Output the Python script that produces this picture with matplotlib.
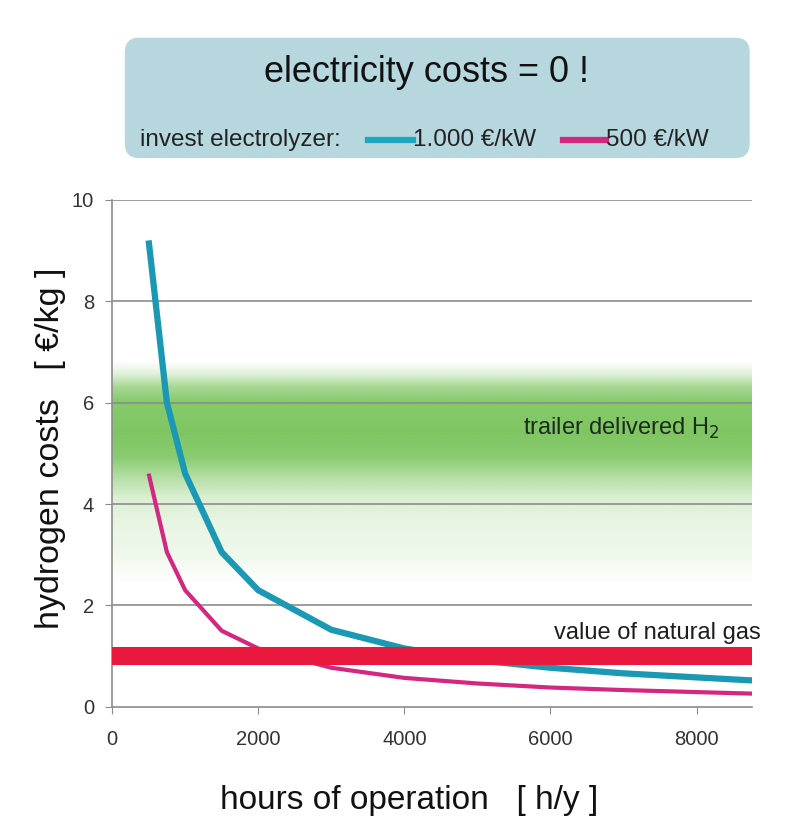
import numpy as np
import matplotlib
matplotlib.use("Agg")
import matplotlib.pyplot as plt
from matplotlib.patches import FancyBboxPatch
from matplotlib.colors import to_rgb

plt.rcParams['font.family'] = ['Liberation Sans', 'DejaVu Sans']

hours = [500, 750, 1000, 1500, 2000, 3000, 4000, 5000, 6000, 7000, 8000, 8760]
cost_1000 = [9.2, 6.0, 4.6, 3.05, 2.3, 1.52, 1.15, 0.92, 0.77, 0.66, 0.58, 0.52]
cost_500 = [4.6, 3.05, 2.3, 1.5, 1.15, 0.77, 0.57, 0.46, 0.38, 0.33, 0.29, 0.26]
natural_gas_value = 1.0
trailer_low, trailer_high = 2.4, 6.8
xticks = [0, 2000, 4000, 6000, 8000]
yticks = [0, 2, 4, 6, 8, 10]

fig = plt.figure(figsize=(7.95, 8.19), dpi=100)
ax = fig.add_axes([0.141, 0.137, 0.805, 0.619])
ax.set_xlim(0, 8760)
ax.set_ylim(0, 10)

# green gradient band (visual style)
yy = np.linspace(trailer_low, trailer_high, 300)
knots_y = [2.4, 3.0, 3.6, 4.1, 4.5, 4.9, 5.4, 6.0, 6.3, 6.55, 6.8]
knots_a = [0.0, 0.10, 0.14, 0.22, 0.45, 0.72, 0.80, 0.75, 0.55, 0.2, 0.0]
alpha = np.interp(yy, knots_y, knots_a)[::-1]
nx = 300
A = np.repeat(alpha[:, None], nx, axis=1)
g = np.array(to_rgb('#5db83a'))
img = np.zeros((len(yy), nx, 4))
img[..., :3] = g
img[..., 3] = A
ax.imshow(img, extent=[0, 8760, trailer_low, trailer_high], aspect='auto', zorder=0, interpolation='bilinear')

for y in yticks[1:]:
    ax.axhline(y, color='#8c8c8c', lw=1.2, zorder=1)

ax.plot(hours, cost_1000, color='#1b98b3', lw=4.5, zorder=3, solid_capstyle='butt')
ax.plot(hours, cost_500, color='#d42780', lw=3.0, zorder=3, solid_capstyle='butt')
ax.plot([0, 8760], [natural_gas_value, natural_gas_value], color='#e8193c', lw=13, zorder=4, solid_capstyle='butt')

ax.text(5620, 5.5, 'trailer delivered H$_2$', fontsize=17, color='#1e2a1e', va='center', ha='left', zorder=5)
ax.text(6050, 1.45, 'value of natural gas', fontsize=17, color='#1e1e1e', va='center', ha='left', zorder=5)

ax.set_xticks(xticks)
ax.set_yticks(yticks)
ax.tick_params(axis='x', length=5, color='#8c8c8c', labelsize=14.5, labelcolor='#333333', pad=12)
ax.tick_params(axis='y', length=5, color='#8c8c8c', labelsize=14.5, labelcolor='#333333', pad=8)
for s in ['top', 'right']:
    ax.spines[s].set_visible(False)
for s in ['left', 'bottom']:
    ax.spines[s].set_color('#8c8c8c')
    ax.spines[s].set_linewidth(1.2)
ax.set_facecolor('white')

ax.set_ylabel('hydrogen costs   [ €/kg ]', fontsize=24.5, color='#111111', va='center')
ax.yaxis.set_label_coords(-0.097, 0.509)
ax.set_xlabel('hours of operation   [ h/y ]', fontsize=24, color='#111111', va='center')
ax.xaxis.set_label_coords(0.464, -0.185)

# header box
box = FancyBboxPatch((0.157, 0.807), 0.786, 0.147, boxstyle='round,pad=0.0,rounding_size=0.018',
                     transform=fig.transFigure, facecolor='#b7d7de', edgecolor='none', zorder=0)
fig.patches.append(box)
fig.text(0.537, 0.912, 'electricity costs = 0 !', fontsize=26, ha='center', va='center', color='#111111')
fig.text(0.176, 0.829, 'invest electrolyzer:', fontsize=17.5, ha='left', va='center', color='#222222')
fig.add_artist(plt.Line2D([0.463, 0.519], [0.829, 0.829], transform=fig.transFigure, color='#1aa8c0', lw=4.5))
fig.text(0.519, 0.829, '1.000 €/kW', fontsize=17.5, ha='left', va='center', color='#222222')
fig.add_artist(plt.Line2D([0.708, 0.762], [0.829, 0.829], transform=fig.transFigure, color='#d42780', lw=4.5))
fig.text(0.762, 0.829, '500 €/kW', fontsize=17.5, ha='left', va='center', color='#222222')

fig.savefig('out.png', dpi=100)
